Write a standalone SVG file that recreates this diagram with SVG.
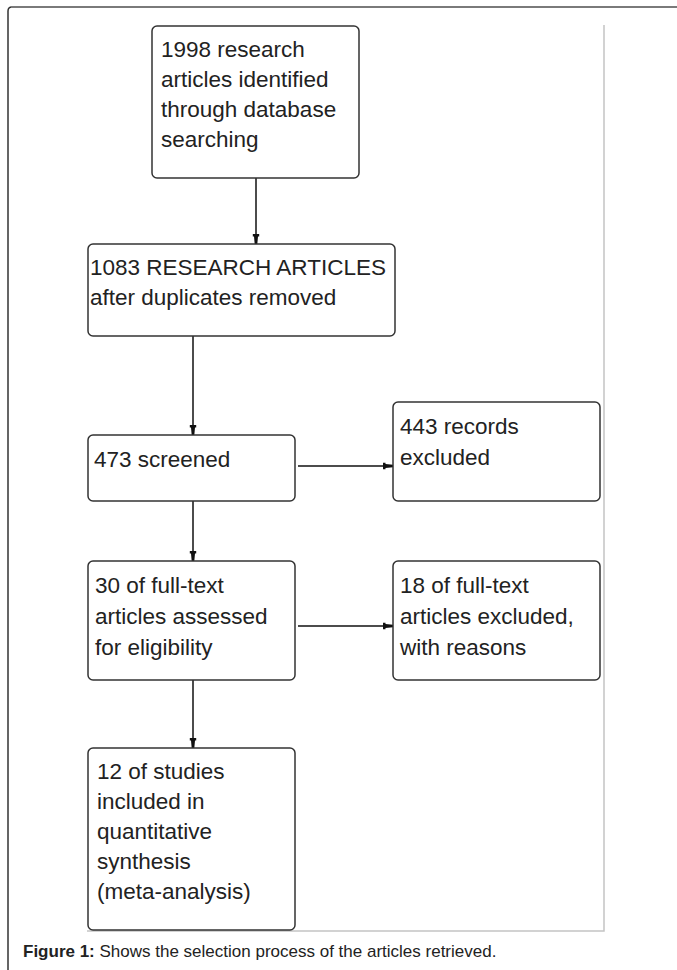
<svg xmlns="http://www.w3.org/2000/svg" width="677" height="970" viewBox="0 0 677 970">
<style>
.box{fill:#fff;stroke:#333;stroke-width:1.5}
.t{font-family:"Liberation Sans",Arial,sans-serif;font-size:22.5px;fill:#222}
.c{stroke:#111;stroke-width:1.5;fill:none}
.cap{font-family:"Liberation Sans",Arial,sans-serif;font-size:17px;fill:#222}
</style>
<defs>
<marker id="ah" markerUnits="userSpaceOnUse" markerWidth="12" markerHeight="10" refX="10" refY="0" viewBox="0 -5 12 10" orient="auto">
<path d="M0,-3.2 L2.5,-3.2 L2.5,-2 L10,-1.3 L10,1.3 L2.5,2 L2.5,3.2 L0,3.2 Z" fill="#111"/>
</marker>
</defs>
<rect width="677" height="970" fill="#fff"/>
<g id="frame">
<path d="M8,970 L8,11 Q8,7 12,7" fill="none" stroke="#333" stroke-width="1.5"/>
<line x1="11" y1="7" x2="677" y2="7" stroke="#7a7a7a" stroke-width="2"/>
<path d="M87,931 L604,931 L604,25" fill="none" stroke="#c4c4c4" stroke-width="1.5"/>
</g>
<g id="connectors">
<line class="c" x1="256" y1="178" x2="256" y2="244" marker-end="url(#ah)"/>
<line class="c" x1="193" y1="336" x2="193" y2="435" marker-end="url(#ah)"/>
<line class="c" x1="298" y1="466" x2="393" y2="466" marker-end="url(#ah)"/>
<line class="c" x1="193" y1="501" x2="193" y2="561" marker-end="url(#ah)"/>
<line class="c" x1="298" y1="626" x2="393" y2="626" marker-end="url(#ah)"/>
<line class="c" x1="193" y1="680" x2="193" y2="748" marker-end="url(#ah)"/>
</g>
<g id="n1">
<rect class="box" x="152" y="26" width="207" height="152" rx="5"/>
<text class="t" x="161" y="57">1998 research</text>
<text class="t" x="161" y="87">articles identified</text>
<text class="t" x="161" y="117">through database</text>
<text class="t" x="161" y="147">searching</text>
</g>
<g id="n2">
<rect class="box" x="88" y="244" width="307" height="92" rx="5"/>
<text class="t" x="90" y="275">1083 RESEARCH ARTICLES</text>
<text class="t" x="90" y="305">after duplicates removed</text>
</g>
<g id="n3">
<rect class="box" x="88" y="435" width="207" height="66" rx="5"/>
<text class="t" x="94" y="467">473 screened</text>
</g>
<g id="n4">
<rect class="box" x="393" y="402" width="207" height="99" rx="5"/>
<text class="t" x="400" y="434">443 records</text>
<text class="t" x="400" y="465">excluded</text>
</g>
<g id="n5">
<rect class="box" x="88" y="561" width="207" height="119" rx="5"/>
<text class="t" x="95" y="593">30 of full-text</text>
<text class="t" x="95" y="624">articles assessed</text>
<text class="t" x="95" y="655">for eligibility</text>
</g>
<g id="n6">
<rect class="box" x="393" y="561" width="207" height="119" rx="5"/>
<text class="t" x="400" y="593">18 of full-text</text>
<text class="t" x="400" y="624">articles excluded,</text>
<text class="t" x="400" y="655">with reasons</text>
</g>
<g id="n7">
<rect class="box" x="88" y="748" width="207" height="182" rx="5"/>
<text class="t" x="97" y="779">12 of studies</text>
<text class="t" x="97" y="809">included in</text>
<text class="t" x="97" y="839">quantitative</text>
<text class="t" x="97" y="869">synthesis</text>
<text class="t" x="97" y="899">(meta-analysis)</text>
</g>
<text class="cap" x="23" y="957"><tspan font-weight="bold">Figure 1:</tspan> Shows the selection process of the articles retrieved.</text>
</svg>
